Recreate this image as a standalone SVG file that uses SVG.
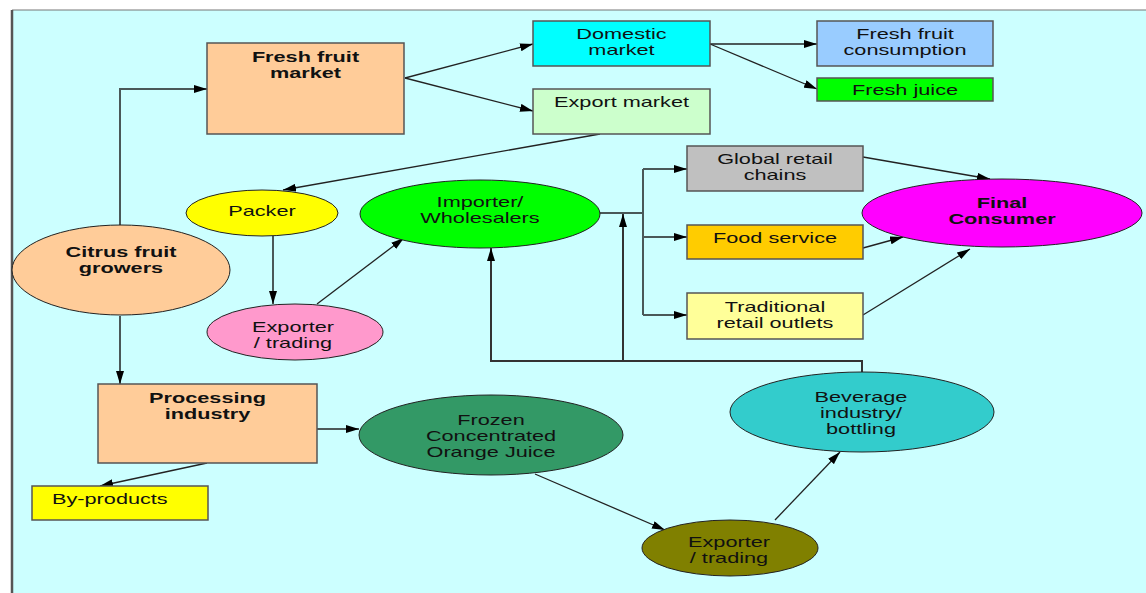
<svg xmlns="http://www.w3.org/2000/svg" width="1146" height="593" viewBox="0 0 1146 593">
<defs>
<marker id="arr" markerUnits="userSpaceOnUse" markerWidth="13" markerHeight="8" refX="13" refY="4" orient="auto">
<path d="M0,0 L13,4 L0,8 z" fill="#000"/>
</marker>
<style>
.box{stroke:#555;stroke-width:1.5}
.ell{stroke:#222;stroke-width:1}
.t{font-family:"Liberation Sans",Arial,sans-serif;font-size:14px;fill:#111;text-anchor:middle}
.b{font-weight:bold}
.s{text-anchor:start}
.ln{fill:none;stroke:#222;stroke-width:1.3}
.or{fill:none;stroke:#4a5858;stroke-width:2}
.fb{fill:none;stroke:#333;stroke-width:2}
</style>
</defs>
<rect x="0" y="0" width="1146" height="593" fill="#fff"/>
<rect x="12" y="10" width="1134" height="583" fill="#CCFFFF"/>
<line x1="12" y1="10" x2="1146" y2="10" stroke="#777" stroke-width="1"/>
<line x1="12" y1="10" x2="12" y2="593" stroke="#555" stroke-width="2.5"/>

<g id="connectors">
<path class="or" d="M120,225 V89 H207" marker-end="url(#arr)"/>
<path class="or" d="M120,316 V384" marker-end="url(#arr)"/>
<path class="ln" d="M405,78 L533,44" marker-end="url(#arr)"/>
<path class="ln" d="M405,78 L533,111" marker-end="url(#arr)"/>
<path class="ln" d="M710,44 H817" marker-end="url(#arr)"/>
<path class="ln" d="M710,44 L817,89" marker-end="url(#arr)"/>
<path class="ln" d="M600,134 L283,190" marker-end="url(#arr)"/>
<path class="or" d="M273,236 V304" marker-end="url(#arr)"/>
<path class="ln" d="M317,304 L404,238" marker-end="url(#arr)"/>
<path class="or" d="M600,213 H643 M643,169 V315"/>
<path class="or" d="M643,169 H687" marker-end="url(#arr)"/>
<path class="or" d="M643,237 H687" marker-end="url(#arr)"/>
<path class="or" d="M643,315 H687" marker-end="url(#arr)"/>
<path class="fb" d="M862,372 V361 H491 V248" marker-end="url(#arr)"/>
<path class="fb" d="M623,361 V214" marker-end="url(#arr)"/>
<path class="ln" d="M863,157 L990,179" marker-end="url(#arr)"/>
<path class="ln" d="M863,248 L903,237" marker-end="url(#arr)"/>
<path class="ln" d="M863,315 L970,249" marker-end="url(#arr)"/>
<path class="ln" d="M317,429 H359" marker-end="url(#arr)"/>
<path class="ln" d="M207,463 L100,486" marker-end="url(#arr)"/>
<path class="ln" d="M535,474 L665,530" marker-end="url(#arr)"/>
<path class="ln" d="M775,520 L840,452" marker-end="url(#arr)"/>
</g>

<g id="fresh-fruit-market">
<rect class="box" x="207" y="43" width="197" height="91" fill="#FFCC99"/>
<text class="t b" transform="translate(305.5,0) scale(1.55,1)" x="0" y="62">Fresh fruit<tspan x="0" dy="16">market</tspan></text>
</g>
<g id="domestic-market">
<rect class="box" x="533" y="21" width="177" height="45" fill="#00FFFF"/>
<text class="t" transform="translate(621.5,0) scale(1.55,1)" x="0" y="39">Domestic<tspan x="0" dy="16">market</tspan></text>
</g>
<g id="export-market">
<rect class="box" x="533" y="89" width="177" height="45" fill="#CCFFCC"/>
<text class="t" transform="translate(621.5,0) scale(1.55,1)" x="0" y="107">Export market</text>
</g>
<g id="fresh-fruit-consumption">
<rect class="box" x="817" y="21" width="176" height="45" fill="#99CCFF"/>
<text class="t" transform="translate(905,0) scale(1.55,1)" x="0" y="39">Fresh fruit<tspan x="0" dy="16">consumption</tspan></text>
</g>
<g id="fresh-juice">
<rect class="box" x="817" y="78" width="176" height="23" fill="#00FF00"/>
<text class="t" transform="translate(905,0) scale(1.55,1)" x="0" y="95">Fresh juice</text>
</g>
<g id="global-retail-chains">
<rect class="box" x="687" y="146" width="176" height="45" fill="#C0C0C0"/>
<text class="t" transform="translate(775,0) scale(1.55,1)" x="0" y="164">Global retail<tspan x="0" dy="16">chains</tspan></text>
</g>
<g id="food-service">
<rect class="box" x="687" y="225" width="176" height="34" fill="#FFCC00"/>
<text class="t" transform="translate(775,0) scale(1.55,1)" x="0" y="243">Food service</text>
</g>
<g id="traditional-retail-outlets">
<rect class="box" x="687" y="293" width="176" height="46" fill="#FFFF99"/>
<text class="t" transform="translate(775,0) scale(1.55,1)" x="0" y="312">Traditional<tspan x="0" dy="16">retail outlets</tspan></text>
</g>
<g id="final-consumer">
<ellipse class="ell" cx="1002" cy="213" rx="140" ry="34" fill="#FF00FF"/>
<text class="t b" transform="translate(1002,0) scale(1.55,1)" x="0" y="208">Final<tspan x="0" dy="16">Consumer</tspan></text>
</g>
<g id="citrus-fruit-growers">
<ellipse class="ell" cx="121" cy="270" rx="109" ry="45" fill="#FFCC99"/>
<text class="t b" transform="translate(121,0) scale(1.55,1)" x="0" y="257">Citrus fruit<tspan x="0" dy="16">growers</tspan></text>
</g>
<g id="packer">
<ellipse class="ell" cx="262" cy="213" rx="76" ry="23" fill="#FFFF00"/>
<text class="t" transform="translate(262,0) scale(1.55,1)" x="0" y="216">Packer</text>
</g>
<g id="exporter-trading-1">
<ellipse class="ell" cx="295" cy="332" rx="88" ry="28" fill="#FF99CC"/>
<text class="t" transform="translate(293,0) scale(1.55,1)" x="0" y="332">Exporter<tspan x="0" dy="16">/ trading</tspan></text>
</g>
<g id="importer-wholesalers">
<ellipse class="ell" cx="480" cy="214" rx="120" ry="34" fill="#00FF00"/>
<text class="t" transform="translate(480,0) scale(1.55,1)" x="0" y="207">Importer/<tspan x="0" dy="16">Wholesalers</tspan></text>
</g>
<g id="processing-industry">
<rect class="box" x="98" y="384" width="219" height="79" fill="#FFCC99"/>
<text class="t b" transform="translate(207.5,0) scale(1.55,1)" x="0" y="403">Processing<tspan x="0" dy="16">industry</tspan></text>
</g>
<g id="by-products">
<rect class="box" x="32" y="486" width="176" height="34" fill="#FFFF00"/>
<text class="t s" transform="translate(52,0) scale(1.55,1)" x="0" y="504">By-products</text>
</g>
<g id="fcoj">
<ellipse class="ell" cx="491" cy="435" rx="132" ry="40" fill="#339966"/>
<text class="t" transform="translate(491,0) scale(1.55,1)" x="0" y="425">Frozen<tspan x="0" dy="16">Concentrated</tspan><tspan x="0" dy="16">Orange Juice</tspan></text>
</g>
<g id="exporter-trading-2">
<ellipse class="ell" cx="730" cy="548" rx="88" ry="28" fill="#808000"/>
<text class="t" transform="translate(729,0) scale(1.55,1)" x="0" y="547">Exporter<tspan x="0" dy="16">/ trading</tspan></text>
</g>
<g id="beverage-industry">
<ellipse class="ell" cx="862" cy="412" rx="132" ry="40" fill="#33CCCC"/>
<text class="t" transform="translate(861,0) scale(1.55,1)" x="0" y="402">Beverage<tspan x="0" dy="16">industry/</tspan><tspan x="0" dy="16">bottling</tspan></text>
</g>
</svg>
